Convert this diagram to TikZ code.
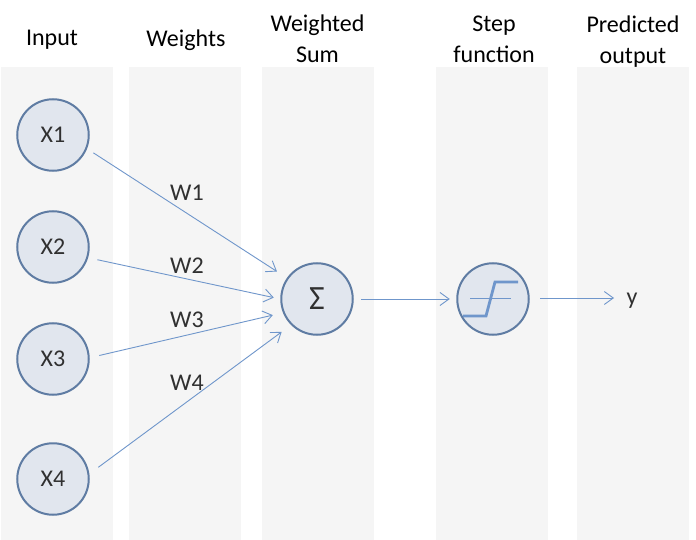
\documentclass[tikz,border=0pt]{standalone}
\usepackage{fontspec}
\setmainfont{Carlito}
\usetikzlibrary{arrows.meta}
\definecolor{panelc}{HTML}{F5F5F5}
\definecolor{circfill}{HTML}{E1E6EE}
\definecolor{circline}{HTML}{5F7CA3}
\definecolor{arrowc}{HTML}{6F96CB}
\definecolor{labc}{HTML}{303030}
\tikzset{
  panel/.style={fill=panelc,draw=none},
  unit/.style={circle,draw=circline,fill=circfill,line width=2pt,minimum size=71.5pt,inner sep=0pt,text=labc,font=\fontsize{24}{24}\selectfont},
  title/.style={align=center,text=black,font=\fontsize{24}{31}\selectfont},
  wlabel/.style={text=labc,font=\fontsize{24}{24}\selectfont},
  link/.style={draw=arrowc,line width=0.9pt,-{Straight Barb[length=9pt,width=13pt,line width=0.9pt]}},
}
\begin{document}
\begin{tikzpicture}[x=1pt,y=-1pt]
\useasboundingbox (0,0) rectangle (696,540);
\fill[white] (0,0) rectangle (696,540);
\path[panel] (1,67) rectangle (113,540);
\path[panel] (129,67) rectangle (241,540);
\path[panel] (262,67) rectangle (374,540);
\path[panel] (436,67) rectangle (548,540);
\path[panel] (577,67) rectangle (689,540);
\node[title] (tinput) at (52,40) {Input};
\node[title] (tweights) at (186,40) {Weights};
\node[title] (tsum) at (317.5,38.5) {Weighted\\Sum};
\node[title] (tstep) at (494,39) {Step\\function};
\node[title] (tpred) at (633,42) {Predicted\\output};
\node[unit] (x1) at (53,135) {\raisebox{-1pt}{X1}};
\node[unit] (x2) at (53,247) {\raisebox{-1pt}{X2}};
\node[unit] (x3) at (53,359) {\raisebox{-1pt}{X3}};
\node[unit] (x4) at (53,479) {\raisebox{-1pt}{X4}};
\node[unit] (sum) at (317,299) {\fontsize{34}{34}\selectfont\raisebox{-1pt}{Σ}};
\node[unit] (step) at (493,299) {};
\node[wlabel] (yout) at (632,301) {y};
\node[wlabel] (w1) at (187,193) {W1};
\node[wlabel] (w2) at (187,266) {W2};
\node[wlabel] (w3) at (187,320) {W3};
\node[wlabel] (w4) at (187,383) {W4};
\draw[link,shorten <=7.5pt,shorten >=11.8pt] (x1.-22.5) -- (sum.145.6);
\draw[link,shorten <=9.4pt,shorten >=6.6pt] (x2.-17.6) -- (sum.180.6);
\draw[link,shorten <=9.8pt,shorten >=10.4pt] (x3.2.8) -- (sum.202);
\draw[link,shorten <=11.1pt,shorten >=11.7pt] (x4.8.6) -- (sum.225.6);
\draw[link,shorten <=7.5pt,shorten >=6.5pt] (sum.east) -- (step.west);
\draw[link,shorten <=10.5pt,shorten >=9pt] ([yshift=1pt]step.east) -- ([yshift=1pt]step.east -| yout.west);
\draw[arrowc,line width=0.8pt] ([shift={(-23,-1)}]step.center) -- ([shift={(18,-1)}]step.center);
\draw[arrowc,line width=2.8pt] ([shift={(-30,17)}]step.center) -- ([shift={(-7,17)}]step.center) -- ([shift={(2,-17)}]step.center) -- ([shift={(25,-17)}]step.center);
\end{tikzpicture}
\end{document}
